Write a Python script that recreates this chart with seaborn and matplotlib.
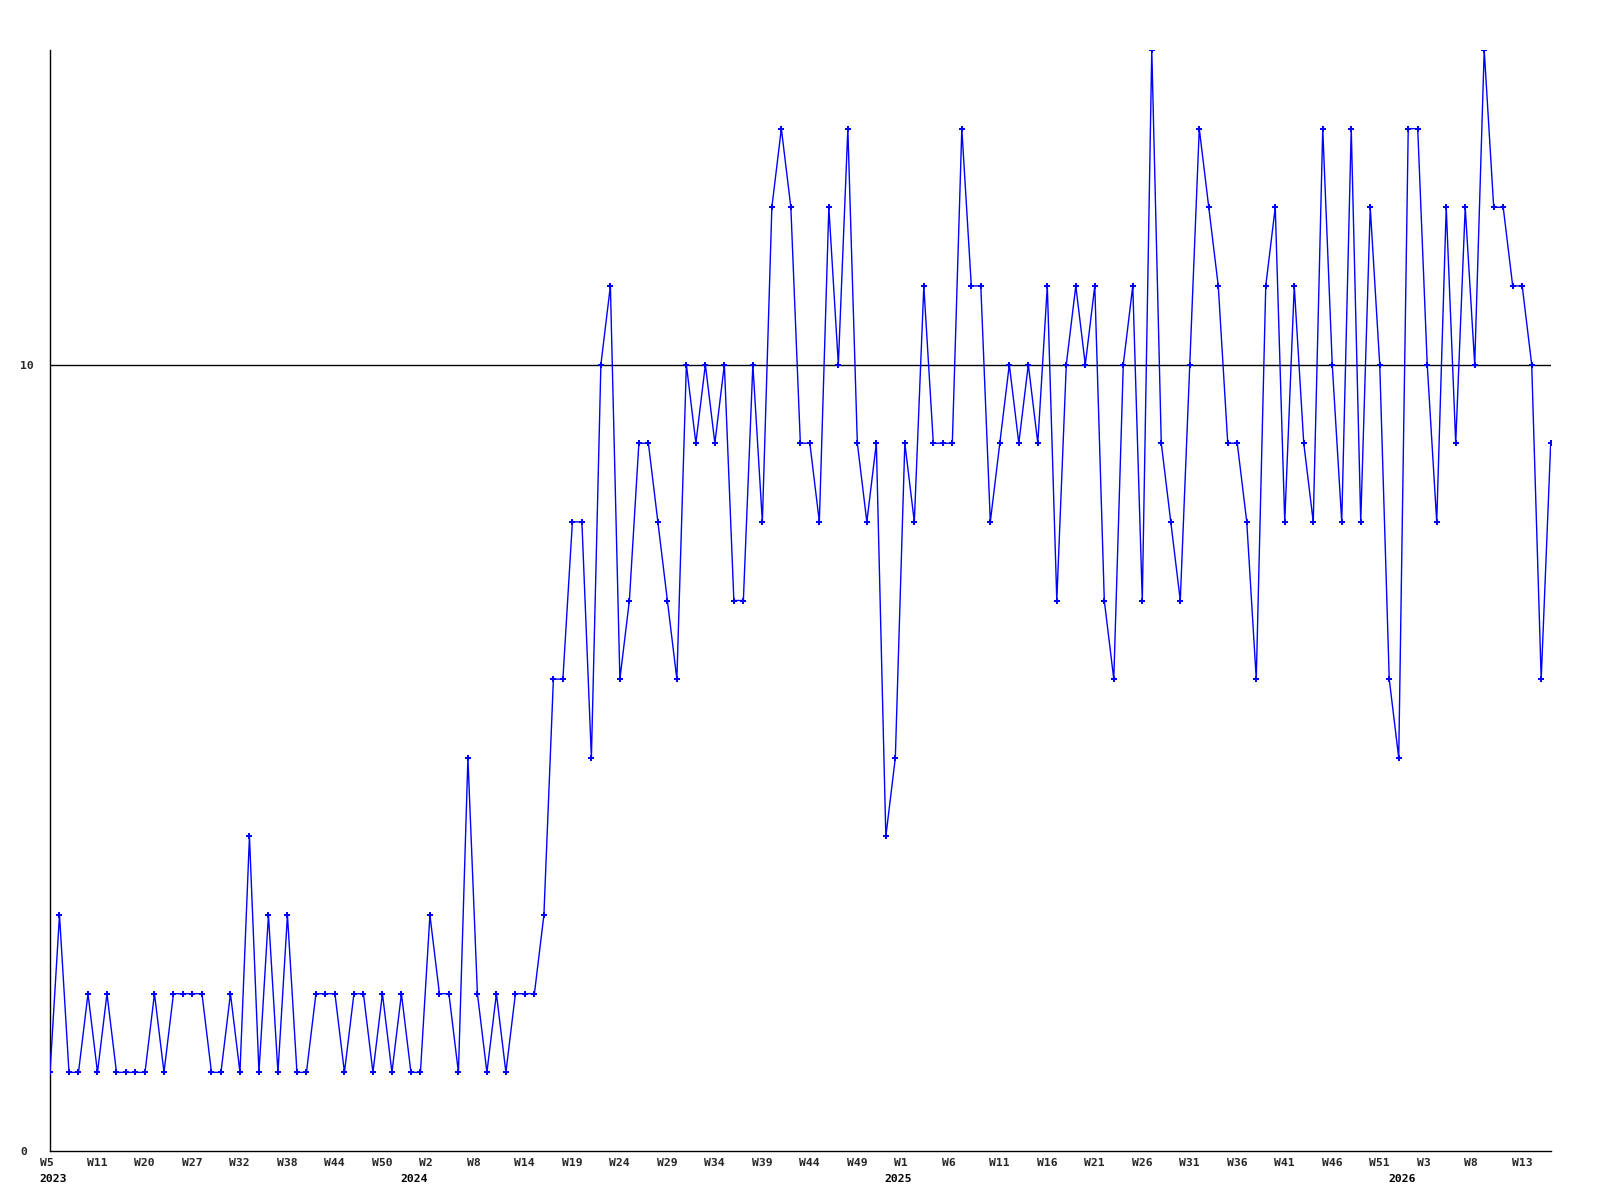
import matplotlib
matplotlib.use("Agg")
import matplotlib.pyplot as plt
import matplotlib.transforms as mtransforms
import pandas as pd
import seaborn as sns

# Weekly values (one per point)
values = [
    1, 3, 1, 1, 2, 1, 2, 1, 1, 1, 1, 2, 1, 2, 2, 2, 2, 1, 1, 2, 1, 4, 1, 3, 1, 3, 1,
    1, 2, 2, 2, 1, 2, 2, 1, 2, 1, 2, 1, 1, 3, 2, 2, 1, 5, 2, 1, 2, 1, 2, 2, 2, 3,
    6, 6, 8, 8, 5, 10, 11, 6, 7, 9, 9, 8, 7, 6, 10, 9, 10, 9, 10, 7, 7, 10, 8, 12,
    13, 12, 9, 9, 8,
    12, 10, 13, 9, 8, 9, 4, 5, 9, 8, 11, 9, 9, 9, 13, 11, 11, 8, 9, 10, 9, 10, 9,
    11, 7, 10, 11,
    10, 11, 7, 6, 10, 11, 7, 14, 9, 8, 7, 10, 13, 12, 11, 9, 9, 8, 6, 11, 12, 8,
    11, 9, 8, 13, 10, 8,
    13, 8, 12, 10, 6, 5, 13, 13, 10, 8, 12, 9, 12, 10, 14, 12, 12, 11, 11, 10, 6, 9,
]

# Week labels, one every 5 points
week_labels = [
    "W5", "W11", "W20", "W27", "W32", "W38", "W44", "W50", "W2", "W8", "W14",
    "W19", "W24", "W29", "W34", "W39", "W44", "W49", "W1", "W6", "W11", "W16",
    "W21", "W26", "W31", "W36", "W41", "W46", "W51", "W3", "W8", "W13",
]
week_pos = list(range(0, 5 * len(week_labels), 5))

years = ["2023", "2024", "2025", "2026"]
year_pos = [0, 38, 89, 142]

ref_level = 10

df = pd.DataFrame({"idx": range(len(values)), "value": values})

sns.set_theme(style="white")
plt.rcParams["font.family"] = ["DejaVu Sans Mono", "DejaVu Sans"]

fig = plt.figure(figsize=(16, 12), dpi=100)
ax = fig.add_axes([50 / 1600, 49 / 1200, 1500.7 / 1600, 1101 / 1200])

ax.axhline(ref_level, color="black", linewidth=1, zorder=1)
sns.lineplot(
    data=df, x="idx", y="value", ax=ax,
    color="#0000ff", linewidth=1,
    marker="P", markersize=4.5, markeredgewidth=0,
    zorder=3,
)

ax.set_xlim(0, len(values) - 1)
ax.set_ylim(0, 14)

for side in ["top", "right"]:
    ax.spines[side].set_visible(False)
for side in ["left", "bottom"]:
    ax.spines[side].set_color("black")
    ax.spines[side].set_linewidth(1)

ax.set_xlabel("")
ax.set_ylabel("")

# y ticks: only 0 and 10, left aligned near the figure edge
ax.set_yticks([0, ref_level])
ax.set_yticklabels(["0", "10"], fontsize=8.2, fontweight="bold", ha="left")
ax.tick_params(axis="y", length=0, pad=21.6)

# x ticks: week labels, left edge a bit before each point
ax.set_xticks(week_pos)
ax.set_xticklabels(week_labels, fontsize=8.2, fontweight="bold", ha="left")
ax.tick_params(axis="x", length=0, pad=5)
shift = mtransforms.ScaledTranslation(-10.5 / 100, 0, fig.dpi_scale_trans)
for lab in ax.get_xticklabels():
    lab.set_transform(lab.get_transform() + shift)

# year labels on a second row
year_tr = mtransforms.blended_transform_factory(ax.transData, ax.transAxes)
year_tr = year_tr + mtransforms.ScaledTranslation(-10.5 / 100, -23 / 100, fig.dpi_scale_trans)
for pos, yr in zip(year_pos, years):
    ax.text(pos, 0, yr, transform=year_tr, ha="left", va="top",
            fontsize=8.2, fontweight="bold", color="black")

fig.savefig("out.png", dpi=100)
